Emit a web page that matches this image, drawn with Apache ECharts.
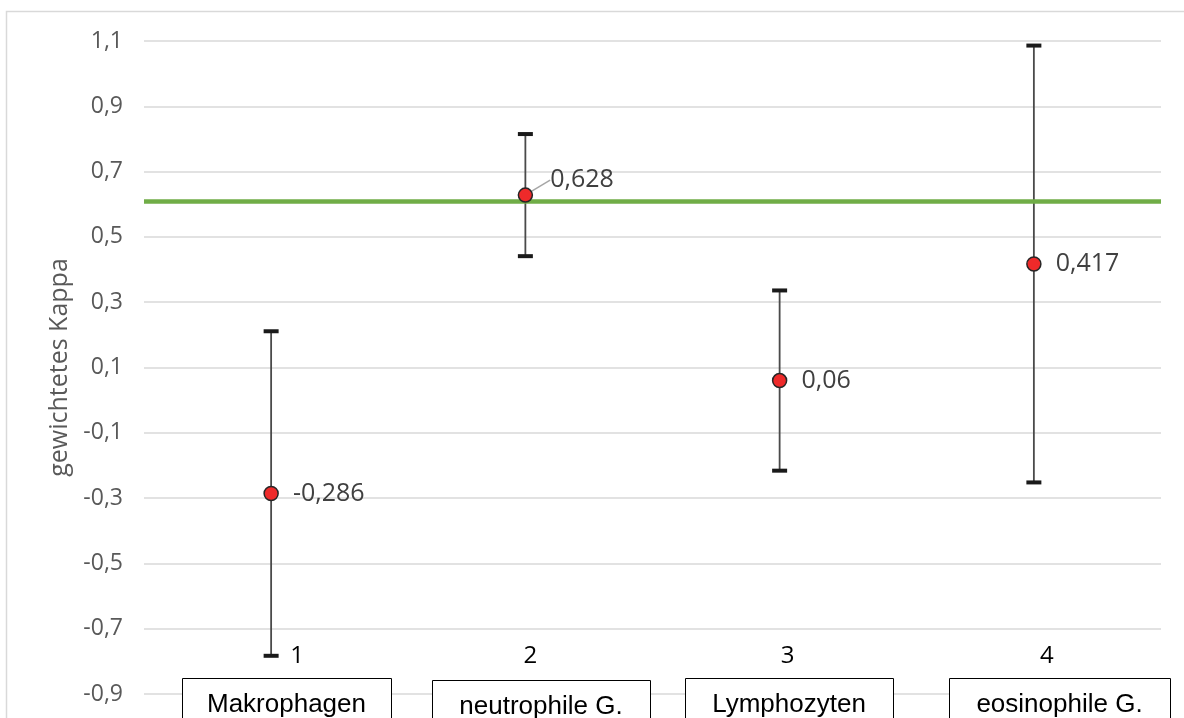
<!DOCTYPE html>
<html>
<head>
<meta charset="utf-8">
<script src="https://cdn.jsdelivr.net/npm/echarts@6/dist/echarts.min.js"></script>
<style>
html,body{margin:0;padding:0;background:#fff;}
#chart{width:1184px;height:718px;}
</style>
</head>
<body>
<div id="chart"></div>
<script>
// ---- data ----
var categories = ['1', '2', '3', '4'];
var categoryNames = ['Makrophagen', 'neutrophile G.', 'Lymphozyten', 'eosinophile G.'];
var kappa = [-0.286, 0.628, 0.06, 0.417];
var ciLower = [-0.783, 0.441, -0.216, -0.252];
var ciUpper = [0.211, 0.815, 0.336, 1.086];
var threshold = 0.61;
var yMin = -0.9, yMax = 1.1, yStep = 0.2;
var yAxisTitle = 'gewichtetes Kappa';

function fmt(v) { return String(Math.round(v * 1000) / 1000).replace('.', ','); }

var chart = echarts.init(document.getElementById('chart'), null, {renderer: 'canvas'});

// label horizontal shifts for the category numbers (layout only)
var labelShift = [52, 10, 16, 26];
var rich = {};
labelShift.forEach(function (p, i) {
  rich['c' + i] = {padding: [0, 0, 0, p], fontSize: 24, color: '#000', fontFamily: 'Open Sans'};
});

var errData = categories.map(function (c, i) { return [i, ciLower[i], ciUpper[i]]; });
var ptData = categories.map(function (c, i) {
  var item = {value: [i, kappa[i]]};
  if (i === 1) {
    item.labelLine = {show: true, lineStyle: {color: '#a6a6a6', width: 1.5}};
  }
  return item;
});

// category name boxes
var boxes = [
  {x: 182, y: 678, w: 209},
  {x: 432, y: 680, w: 218},
  {x: 685, y: 678, w: 208},
  {x: 949, y: 678, w: 221}
];
var graphics = [{
  type: 'rect', silent: true, z: -10,
  shape: {x: 6.5, y: 11.5, width: 1300, height: 900},
  style: {fill: 'none', stroke: '#d9d9d9', lineWidth: 1.5}
}];
categoryNames.forEach(function (name, i) {
  var b = boxes[i];
  graphics.push({
    type: 'rect', z: 100,
    shape: {x: b.x + 0.5, y: b.y + 0.5, width: b.w, height: 80},
    style: {fill: '#fff', stroke: '#000', lineWidth: 1}
  });
  graphics.push({
    type: 'text', z: 101,
    x: b.x + b.w / 2, y: b.y + 27,
    style: {text: name, fill: '#000', font: '26px "Liberation Sans", Arial, sans-serif',
      textAlign: 'center', textVerticalAlign: 'middle'}
  });
});

var option = {
  animation: false,
  backgroundColor: '#fff',
  grid: {left: 144, right: 23, top: 41, bottom: 24, containLabel: false},
  xAxis: {
    type: 'category',
    data: categories,
    boundaryGap: true,
    axisLine: {show: false},
    axisTick: {show: false},
    splitLine: {show: false},
    axisLabel: {
      inside: true, margin: 26,
      formatter: function (v, i) { return '{c' + i + '|' + v + '}'; },
      rich: rich
    }
  },
  yAxis: {
    type: 'value',
    min: yMin, max: yMax, interval: yStep,
    name: yAxisTitle,
    nameLocation: 'middle',
    nameGap: 64,
    nameRotate: 90,
    nameTextStyle: {fontSize: 25, color: '#595959', fontFamily: 'Open Sans'},
    axisLine: {show: false},
    axisTick: {show: false},
    splitLine: {lineStyle: {color: '#d9d9d9', width: 1.5}},
    axisLabel: {
      margin: 21, fontSize: 23, color: '#595959', fontFamily: 'Open Sans',
      formatter: function (v) { return (Math.round(v * 10) / 10).toFixed(1).replace('.', ','); }
    }
  },
  series: [
    {
      type: 'line',
      data: [],
      silent: true,
      z: 2,
      markLine: {
        silent: true,
        symbol: ['none', 'none'],
        label: {show: false},
        lineStyle: {color: '#70AD47', width: 4.5, type: 'solid'},
        data: [{yAxis: threshold}]
      }
    },
    {
      type: 'custom',
      z: 3,
      data: errData,
      renderItem: function (params, api) {
        var x = api.coord([api.value(0), api.value(1)])[0];
        var yl = api.coord([api.value(0), api.value(1)])[1];
        var yh = api.coord([api.value(0), api.value(2)])[1];
        var cap = 7.5;
        return {
          type: 'group',
          children: [
            {type: 'line', shape: {x1: x, y1: yl, x2: x, y2: yh},
              style: {stroke: '#4a4a4a', lineWidth: 1.8}},
            {type: 'line', shape: {x1: x - cap, y1: yh, x2: x + cap, y2: yh},
              style: {stroke: '#1a1a1a', lineWidth: 4}},
            {type: 'line', shape: {x1: x - cap, y1: yl, x2: x + cap, y2: yl},
              style: {stroke: '#1a1a1a', lineWidth: 4}}
          ]
        };
      }
    },
    {
      type: 'scatter',
      z: 5,
      data: ptData,
      symbol: 'circle',
      symbolSize: 14,
      itemStyle: {color: '#EE2A2A', borderColor: '#262626', borderWidth: 1.5, opacity: 1},
      label: {
        show: true,
        position: 'right',
        distance: 14,
        fontSize: 25,
        color: '#404040',
        fontFamily: 'Open Sans',
        formatter: function (p) { return fmt(p.value[1]); }
      },
      labelLayout: function (params) {
        if (params.dataIndex === 1) {
          return {dx: 3, dy: -15};
        }
        return {};
      },
      labelLine: {show: false}
    }
  ],
  graphic: graphics
};
chart.setOption(option);
</script>
</body>
</html>
